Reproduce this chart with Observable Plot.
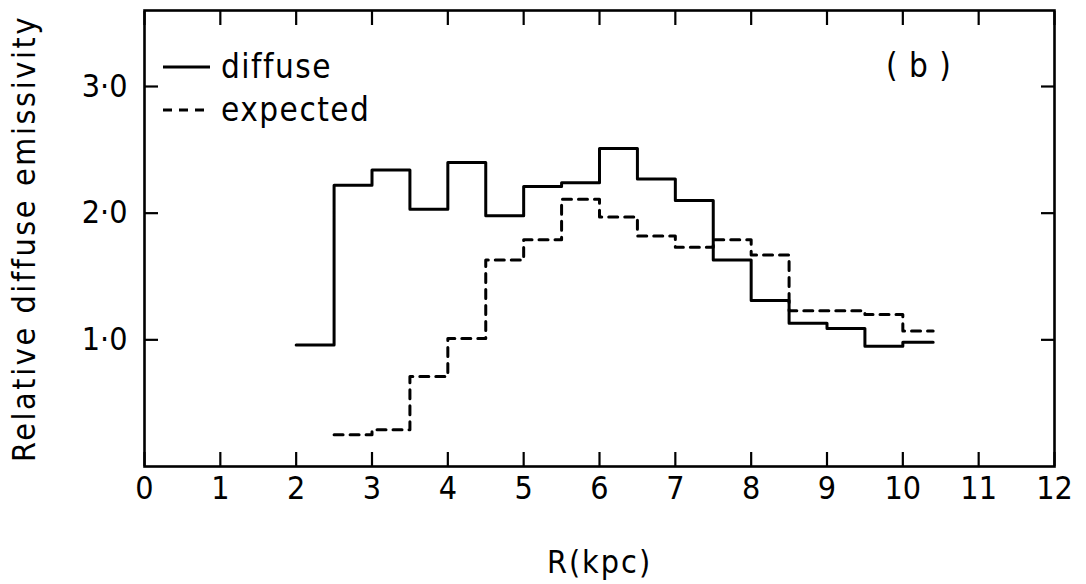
<!DOCTYPE html>
<html>
<head>
<meta charset="utf-8">
<script src="https://cdn.jsdelivr.net/npm/d3@7"></script>
<script src="https://cdn.jsdelivr.net/npm/@observablehq/plot@0.6"></script>
<style>
  html, body { margin: 0; padding: 0; background: #fff; }
</style>
</head>
<body>
<div id="chart"></div>
<script>
// ---- data ----
const diffuseR   = [2.0, 2.5, 3.0, 3.5, 4.0, 4.5, 5.0, 5.5, 6.0, 6.5, 7.0, 7.5, 8.0, 8.5, 9.0, 9.5, 10.0, 10.4];
const diffuseVal = [0.96, 2.22, 2.34, 2.03, 2.40, 1.98, 2.21, 2.24, 2.51, 2.27, 2.10, 1.63, 1.31, 1.13, 1.09, 0.95, 0.98, 0.98];
const expectedR   = [2.5, 3.0, 3.5, 4.0, 4.5, 5.0, 5.5, 6.0, 6.5, 7.0, 7.5, 8.0, 8.5, 9.0, 9.5, 10.0, 10.4];
const expectedVal = [0.25, 0.29, 0.71, 1.01, 1.63, 1.79, 2.11, 1.97, 1.82, 1.73, 1.79, 1.67, 1.23, 1.23, 1.20, 1.07, 1.07];
const xTicks = [0, 1, 2, 3, 4, 5, 6, 7, 8, 9, 10, 11, 12];
const yTicks = [1, 2, 3];
const legendLabels = ["diffuse", "expected"];
const panelLabel = "( b )";
const xTitle = "R(kpc)";
const yTitle = "Relative diffuse emissivity";

const font = "'DejaVu Sans Condensed', 'Liberation Sans Narrow', sans-serif";
const fmtY = d => d.toFixed(1).replace(".", "\u00B7");

const diffuse = diffuseR.map((r, i) => ({r, v: diffuseVal[i]}));
const expected = expectedR.map((r, i) => ({r, v: expectedVal[i]}));

const dashes = [null, "9,7"];
const T = 14; // inward tick length

// in-frame legend and panel label, positioned relative to the frame
function legendMark(index, scales, values, dims) {
  const g = d3.create("svg:g")
    .attr("font-family", font)
    .style("font-size", "33px")
    .attr("fill", "black");
  const left = dims.marginLeft, top = dims.marginTop;
  legendLabels.forEach((lab, i) => {
    const y = top + 57 + i * 43;
    g.append("line")
      .attr("x1", left + 19).attr("x2", left + 66)
      .attr("y1", y).attr("y2", y)
      .attr("stroke", "black").attr("stroke-width", 2.8)
      .attr("stroke-dasharray", dashes[i]);
    g.append("text")
      .attr("x", left + 77).attr("y", y + 11)
      .attr("text-anchor", "start")
      .attr("letter-spacing", "1.5px")
      .text(lab);
  });
  g.append("text")
    .attr("x", dims.width - dims.marginRight - 135)
    .attr("y", top + 67)
    .attr("text-anchor", "middle")
    .attr("letter-spacing", "1px")
    .text(panelLabel);
  return g.node();
}

const chart = Plot.plot({
  width: 1086,
  height: 584,
  marginLeft: 144,
  marginRight: 32,
  marginTop: 10,
  marginBottom: 118,
  style: {fontFamily: font, fontSize: "32px", color: "black", background: "white", overflow: "visible"},
  x: {domain: [0, 12]},
  y: {domain: [0, 3.6]},
  marks: [
    // inward ticks on all four sides (outward ticks shifted into the frame)
    Plot.axisX(xTicks, {anchor: "bottom", tickSize: T, dy: -T, tickFormat: () => "", strokeWidth: 2.2, label: null}),
    Plot.axisX(xTicks, {anchor: "top", tickSize: T, dy: T, tickFormat: () => "", strokeWidth: 2.2, label: null}),
    Plot.axisY(yTicks, {anchor: "left", tickSize: T, dx: T, tickFormat: () => "", strokeWidth: 2.2, label: null}),
    Plot.axisY(yTicks, {anchor: "right", tickSize: T, dx: -T, tickFormat: () => "", strokeWidth: 2.2, label: null}),
    // tick labels and titles
    Plot.axisX(xTicks, {anchor: "bottom", tickSize: 0, tickPadding: 10, fontSize: 32, tickFormat: d => String(d),
      label: xTitle, labelAnchor: "center", labelArrow: "none", labelOffset: 106}),
    Plot.axisY(yTicks, {anchor: "left", tickSize: 0, tickPadding: 17, fontSize: 32, tickFormat: fmtY,
      label: yTitle, labelAnchor: "center", labelArrow: "none", labelOffset: 132}),
    Plot.frame({stroke: "black", strokeWidth: 2.6}),
    Plot.line(diffuse, {x: "r", y: "v", curve: "step-after", stroke: "black", strokeWidth: 3}),
    Plot.line(expected, {x: "r", y: "v", curve: "step-after", stroke: "black", strokeWidth: 3, strokeDasharray: dashes[1]}),
    legendMark
  ]
});
document.getElementById("chart").appendChild(chart);
// widen the spacing of the axis titles to match the reference lettering
d3.select(chart).selectAll("g[aria-label='y-axis label'] text").attr("letter-spacing", "2.6px");
d3.select(chart).selectAll("g[aria-label='x-axis label'] text").attr("letter-spacing", "2px");
</script>
</body>
</html>
